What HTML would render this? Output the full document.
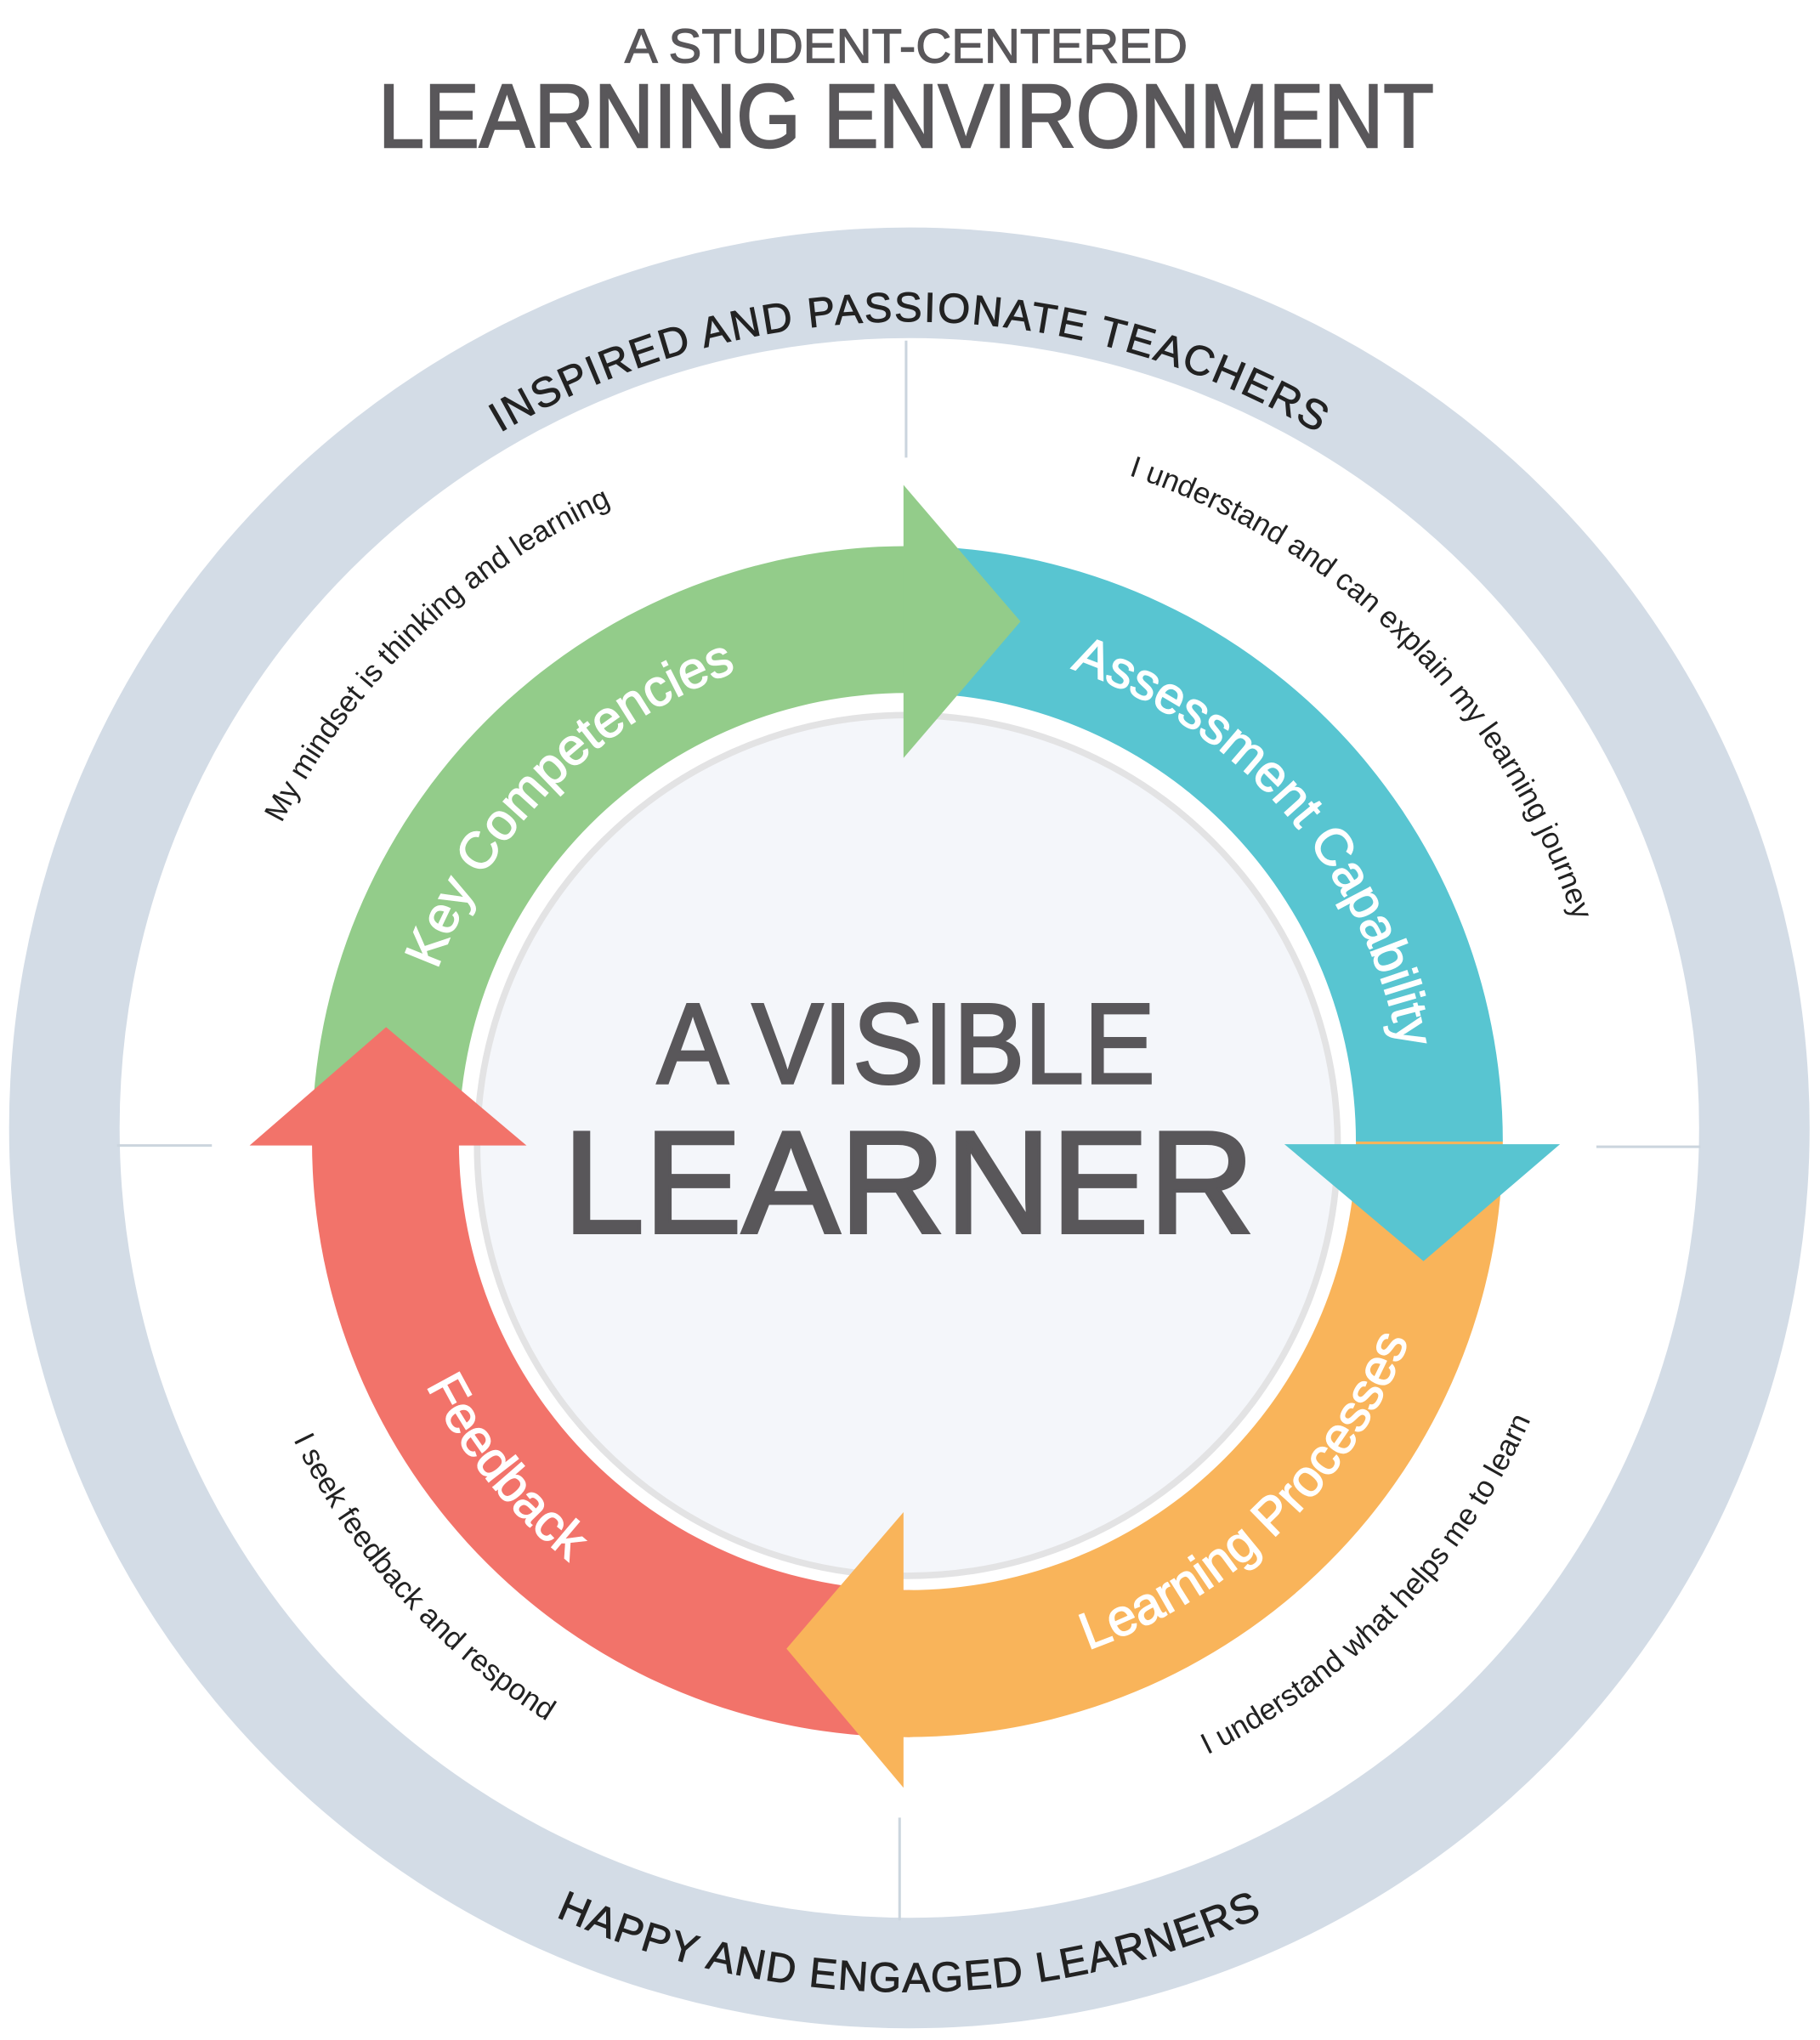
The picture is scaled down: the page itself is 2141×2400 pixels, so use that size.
<!DOCTYPE html>
<html><head><meta charset="utf-8"><style>
html,body{margin:0;padding:0;background:#fff}
svg{display:block}
text{font-family:"Liberation Sans",sans-serif}
</style></head><body>
<svg width="2141" height="2400" viewBox="0 0 1400 1569" preserveAspectRatio="none" xmlns="http://www.w3.org/2000/svg">
<defs>
<path id="ringTop" d="M79,867 A620,620 0 0 1 1319,867 A620,620 0 0 1 79,867"/>
<path id="ringBot" d="M34,867 A665,665 0 0 0 1364,867 A665,665 0 0 0 34,867"/>
<path id="smTop" d="M158,878 A540,540 0 0 1 1238,878 A540,540 0 0 1 158,878"/>
<path id="smBot" d="M173,878 A525,525 0 0 0 1223,878 A525,525 0 0 0 173,878"/>
<path id="lbTop" d="M313,878 A385,385 0 0 1 1083,878 A385,385 0 0 1 313,878"/>
<path id="lbBot" d="M283,878 A415,415 0 0 0 1113,878 A415,415 0 0 0 283,878"/>
</defs>
<rect width="1400" height="1569" fill="#fff"/>
<circle cx="699.5" cy="867.5" r="650" fill="none" stroke="#d3dce6" stroke-width="85"/>
<g stroke="#cbd5de" stroke-width="2">
<line x1="697" y1="262" x2="697" y2="352"/>
<line x1="692" y1="1398" x2="692" y2="1477"/>
<line x1="90" y1="881" x2="163" y2="881"/>
<line x1="1228" y1="882" x2="1308" y2="882"/>
</g>
<g fill="#59575a" stroke="#59575a">
<text x="697" y="48" font-size="37" stroke-width="0.8" text-anchor="middle" textLength="433" lengthAdjust="spacingAndGlyphs">A STUDENT-CENTERED</text>
<text x="697" y="113" font-size="69" stroke-width="1.6" text-anchor="middle" textLength="812" lengthAdjust="spacingAndGlyphs">LEARNING ENVIRONMENT</text>
</g>
<g font-size="32" fill="#222" stroke="#222" stroke-width="0.6">
<text><textPath href="#ringTop" startOffset="973.9" text-anchor="middle" textLength="660" lengthAdjust="spacing">INSPIRED AND PASSIONATE TEACHERS</textPath></text>
<text><textPath href="#ringBot" startOffset="1044.6" text-anchor="middle" textLength="560" lengthAdjust="spacing">HAPPY AND ENGAGED LEARNERS</textPath></text>
</g>
<circle cx="698" cy="881" r="331" fill="#f4f6fa" stroke="#e3e3e4" stroke-width="5"/>
<path d="M240,878 A458,458 0 0 1 698,420 L698,533 A345,345 0 0 0 353,878 Z" fill="#93cc8a"/>
<path d="M698,420 A458,458 0 0 1 1156,878 L1043,878 A345,345 0 0 0 698,533 Z" fill="#58c5d1"/>
<path d="M1156,878 A458,458 0 0 1 698,1336 L698,1223 A345,345 0 0 0 1043,878 Z" fill="#f9b45a"/>
<path d="M700,1336 A458,458 0 0 1 240,878 L353,878 A345,345 0 0 0 700,1223 Z" fill="#f2736a"/>
<path d="M695,373 L785,478 L695,583 Z" fill="#93cc8a"/>
<path d="M988,880 L1200,880 L1095,970 Z" fill="#58c5d1"/>
<path d="M695,1163 L695,1223 L702,1223 L702,1336 L695,1336 L695,1375 L605,1268 Z" fill="#f9b45a"/>
<path d="M192,881 L405,881 L297,790 Z" fill="#f2736a"/>
<g font-size="40" fill="#fff" stroke="#fff" stroke-width="0.9">
<text><textPath href="#lbTop" startOffset="302.4" text-anchor="middle">Key Competencies</textPath></text>
<text><textPath href="#lbTop" startOffset="934.5" text-anchor="middle">Assessment Capability</textPath></text>
<text><textPath href="#lbBot" startOffset="970.0" text-anchor="middle">Learning Processes</textPath></text>
<text><textPath href="#lbBot" startOffset="282.4" text-anchor="middle">Feedback</textPath></text>
</g>
<g font-size="23" fill="#222">
<text><textPath href="#smTop" startOffset="433.6" text-anchor="middle">My mindset is thinking and learning</textPath></text>
<text><textPath href="#smTop" startOffset="1272.4" text-anchor="middle">I understand and can explain my learning journey</textPath></text>
<text><textPath href="#smBot" startOffset="384.8" text-anchor="middle">I seek feedback and respond</textPath></text>
<text><textPath href="#smBot" startOffset="1246.2" text-anchor="middle">I understand what helps me to learn</textPath></text>
</g>
<g fill="#59575a" stroke="#59575a">
<text x="697" y="833" font-size="88" stroke-width="2" text-anchor="middle" textLength="383" lengthAdjust="spacingAndGlyphs">A VISIBLE</text>
<text x="699" y="948" font-size="112" stroke-width="2.5" text-anchor="middle" textLength="532" lengthAdjust="spacingAndGlyphs">LEARNER</text>
</g>
</svg>
</body></html>
